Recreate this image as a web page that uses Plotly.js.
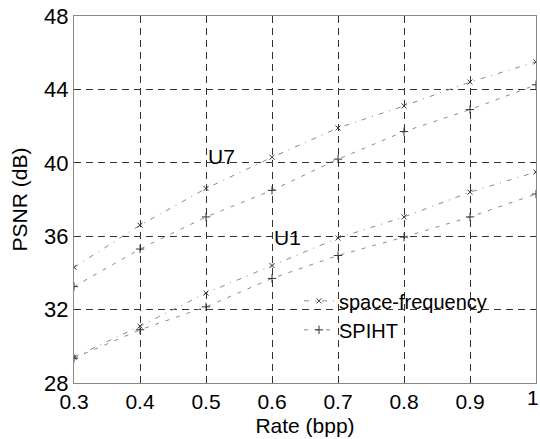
<!DOCTYPE html>
<html>
<head>
<meta charset="utf-8">
<script src="https://cdn.plot.ly/plotly-3.0.1.min.js"></script>
<style>html,body{margin:0;padding:0;background:#fff;}#chart{width:540px;height:439px;}</style>
</head>
<body>
<div id="chart"></div>
<script>
const rate = [0.3, 0.4, 0.5, 0.6, 0.7, 0.8, 0.9, 1.0];
const u7SpaceFreq = [34.3, 36.6, 38.6, 40.3, 41.9, 43.1, 44.4, 45.5];
const u7Spiht     = [33.25, 35.3, 37.05, 38.5, 40.2, 41.7, 42.9, 44.25];
const u1SpaceFreq = [29.4, 31.1, 32.9, 34.4, 35.9, 37.05, 38.4, 39.5];
const u1Spiht     = [29.35, 30.9, 32.15, 33.7, 34.95, 35.95, 37.05, 38.3];
const seriesNames = ['space-frequency', 'SPIHT'];
const xTicks = [0.3, 0.4, 0.5, 0.6, 0.7, 0.8, 0.9, 1];
const xTickText = ['0.3', '0.4', '0.5', '0.6', '0.7', '0.8', '0.9', ''];
const lastXTickText = '1';
const yTicks = [28, 32, 36, 40, 44, 48];
const labels = [{text: 'U7', x: 0.5, y: 40.35}, {text: 'U1', x: 0.6, y: 35.95}];

const font = 'Liberation Sans, Arial, Helvetica, sans-serif';
const sfStyle = {line: {color: '#8a8a8a', width: 1, dash: '5px,6px,1px,6px'}, marker: {symbol: 'x-thin', size: 5, line: {color: '#333', width: 1}}};
const spStyle = {line: {color: '#8a8a8a', width: 1, dash: '4px,7px'}, marker: {symbol: 'cross-thin', size: 6, line: {color: '#333', width: 1}}};

const traces = [
  Object.assign({x: rate, y: u7SpaceFreq, name: seriesNames[0], mode: 'lines+markers', legendgroup: 'sf', showlegend: true}, sfStyle),
  Object.assign({x: rate, y: u7Spiht, name: seriesNames[1], mode: 'lines+markers', legendgroup: 'sp', showlegend: true}, spStyle),
  Object.assign({x: rate, y: u1SpaceFreq, name: seriesNames[0], mode: 'lines+markers', legendgroup: 'sf', showlegend: false}, sfStyle),
  Object.assign({x: rate, y: u1Spiht, name: seriesNames[1], mode: 'lines+markers', legendgroup: 'sp', showlegend: false}, spStyle)
];

const annotations = labels.map(l => ({text: l.text, x: l.x, y: l.y, xref: 'x', yref: 'y', xanchor: 'left', yanchor: 'middle',
    showarrow: false, font: {family: font, size: 21, color: '#000'}}));
annotations.push({text: lastXTickText, x: xTicks[xTicks.length - 1], y: 0, xref: 'x', yref: 'paper',
    xanchor: 'right', yanchor: 'top', xshift: 4, yshift: -2, borderpad: 0, showarrow: false,
    font: {family: font, size: 21, color: '#000'}});

const layout = {
  width: 540, height: 439,
  margin: {l: 74, r: 4, t: 16, b: 56},
  paper_bgcolor: '#fff', plot_bgcolor: '#fff',
  font: {family: font, size: 21, color: '#000'},
  showlegend: true,
  legend: {x: 0.487, y: 0.277, xanchor: 'left', yanchor: 'top', bgcolor: 'rgba(0,0,0,0)', borderwidth: 0,
           font: {family: font, size: 20, color: '#000'}, tracegroupgap: 0, itemwidth: 30},
  xaxis: {
    range: [0.3, 1], tickvals: xTicks, ticktext: xTickText, ticks: '', ticklabeloverflow: 'allow',
    showgrid: true, gridcolor: '#333', gridwidth: 1, griddash: '7px,5px',
    showline: true, linecolor: '#888', linewidth: 1, mirror: true, zeroline: false,
    tickfont: {family: font, size: 21, color: '#000'},
    title: {text: 'Rate (bpp)', font: {family: font, size: 21, color: '#000'}, standoff: 6}
  },
  yaxis: {
    range: [28, 48], tickvals: yTicks, ticks: '', ticklabeloverflow: 'allow',
    showgrid: true, gridcolor: '#333', gridwidth: 1, griddash: '7px,5px',
    showline: true, linecolor: '#888', linewidth: 1, mirror: true, zeroline: false,
    tickfont: {family: font, size: 22, color: '#000'},
    title: {text: 'PSNR (dB)', font: {family: font, size: 21, color: '#000'}, standoff: 10}
  },
  annotations: annotations
};

Plotly.newPlot('chart', traces, layout, {displayModeBar: false, staticPlot: true});
</script>
</body>
</html>
